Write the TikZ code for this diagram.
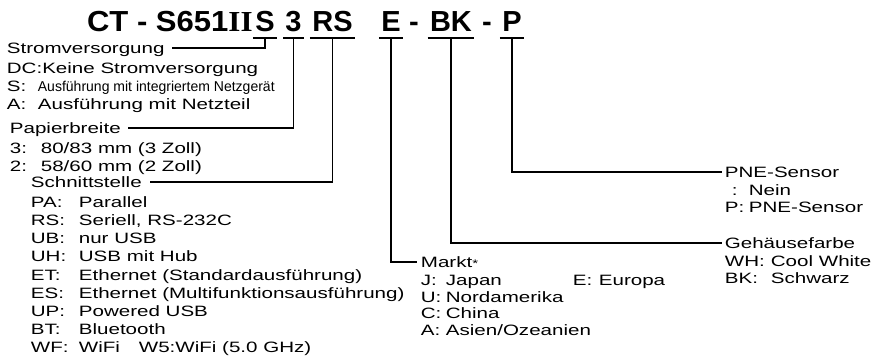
\documentclass[tikz,border=0pt]{standalone}
\usepackage{fontspec}
\setmainfont[FakeStretch=1.37]{Liberation Sans}
\newfontfamily\codefont{Liberation Sans}
\newfontfamily\prefixfont[FakeStretch=1.07]{Liberation Sans}
\newfontfamily\numeralfont[FakeStretch=1.07]{Liberation Serif}
\newfontfamily\narrowfont[FakeStretch=0.98]{Liberation Sans}
\usetikzlibrary{positioning}
\newcommand{\kv}[3]{\makebox[#1][l]{#2}#3}

\begin{document}
\begin{tikzpicture}[x=1pt, y=-1pt, line width=1.8pt, line cap=butt,
	code/.style={inner sep=0pt, anchor=base, font=\codefont\bfseries\fontsize{29}{29}\selectfont},
	head/.style={inner sep=0pt, anchor=west, text height=10.7pt, text depth=0pt, font=\fontsize{15}{18.2}\selectfont},
	widelist/.style={inner sep=0pt, font=\fontsize{15}{18.2}\selectfont},
	tightlist/.style={inner sep=0pt, font=\fontsize{15}{16.5}\selectfont}]
			\useasboundingbox (0,0) rectangle (873,358);
			\node[code, anchor=base east, font=\prefixfont\bfseries\fontsize{29}{29}\selectfont] (ct) at (253.5,32) {CT - S651{\numeralfont II}};
			\node[code] (ps) at (265,32) {S};
			\node[code] (pw) at (293.5,32) {3};
			\node[code] (pi) at (332.5,32) {RS};
			\node[code] (pm) at (391,32) {E};
			\node[code] (d1) at (414,32) {-};
			\node[code] (pc) at (451,32) {BK};
			\node[code] (d2) at (487,32) {-};
			\node[code] (pp) at (512,32) {P};
			\foreach \p in {ps,pw,pi,pm,pc,pp}
				\draw ([xshift=-1.5pt,yshift=-6pt]\p.base west)--([xshift=1.5pt,yshift=-6pt]\p.base east);
			\node[head] (strom) at (6,48) {Stromversorgung};
			\node[widelist, below=5.46pt of strom.south west, anchor=north west] (stromlist) {\begin{tabular}[t]{@{}l@{}}
				DC:Keine Stromversorgung\\
				\kv{31pt}{S:}{\narrowfont\fontsize{14.3}{18.2}\selectfont Ausführung mit integriertem Netzgerät}\\
				\kv{31pt}{A:}{Ausführung mit Netzteil}
			\end{tabular}};
			\node[head] (paper) at (9,128) {Papierbreite};
			\node[widelist, below=5.46pt of paper.south west, anchor=north west] (paperlist) {\begin{tabular}[t]{@{}l@{}}
				\kv{31pt}{3:}{80/83 mm (3 Zoll)}\\
				\kv{31pt}{2:}{58/60 mm (2 Zoll)}
			\end{tabular}};
			\node[head] (port) at (30,182) {Schnittstelle};
			\node[widelist, below=5.46pt of port.south west, anchor=north west] (portlist) {\begin{tabular}[t]{@{}l@{}}
				\kv{48pt}{PA:}{Parallel}\\
				\kv{48pt}{RS:}{Seriell, RS-232C}\\
				\kv{48pt}{UB:}{nur USB}\\
				\kv{48pt}{UH:}{USB mit Hub}\\
				\kv{48pt}{ET:}{Ethernet (Standardausführung)}\\
				\kv{48pt}{ES:}{Ethernet (Multifunktionsausführung)}\\
				\kv{48pt}{UP:}{Powered USB}\\
				\kv{48pt}{BT:}{Bluetooth}\\
				\kv{48pt}{WF:}{\kv{60pt}{WiFi}{W5:WiFi (5.0 GHz)}}
			\end{tabular}};
			\node[head] (market) at (420,262) {Markt{\fontsize{11}{11}\selectfont*}};
			\node[tightlist, below=4.95pt of market.south west, anchor=north west] (marketlist) {\begin{tabular}[t]{@{}l@{}}
				\kv{25pt}{J:}{\kv{127pt}{Japan}{\kv{26pt}{E:}{Europa}}}\\
				\kv{25pt}{U:}{Nordamerika}\\
				\kv{25pt}{C:}{China}\\
				\kv{25pt}{A:}{Asien/Ozeanien}
			\end{tabular}};
			\node[head] (colour) at (724,243) {Gehäusefarbe};
			\node[tightlist, below=4.95pt of colour.south west, anchor=north west] (colourlist) {\begin{tabular}[t]{@{}l@{}}
				\kv{46pt}{WH:}{Cool White}\\
				\kv{46pt}{BK:}{Schwarz}
			\end{tabular}};
			\node[head] (sensor) at (724,172) {PNE-Sensor};
			\node[tightlist, below=4.95pt of sensor.south west, anchor=north west] (sensorlist) {\begin{tabular}[t]{@{}l@{}}
				\kv{24pt}{\hspace{7pt}:}{Nein}\\
				\kv{24pt}{P:}{PNE-Sensor}
			\end{tabular}};
			\draw ([yshift=-6pt]ps.base) |- ([xshift=7pt]strom.east);
			\draw ([yshift=-6pt]pw.base) |- ([xshift=6pt]paper.east);
			\draw ([yshift=-6pt]pi.base) |- ([xshift=7pt]port.east);
			\draw ([yshift=-6pt]pm.base) |- ([xshift=-3pt]market.west);
			\draw ([yshift=-6pt]pc.base) |- ([xshift=-2pt]colour.west);
			\draw ([yshift=-6pt]pp.base) |- ([xshift=-2pt]sensor.west);
	\end{tikzpicture}
\end{document}
